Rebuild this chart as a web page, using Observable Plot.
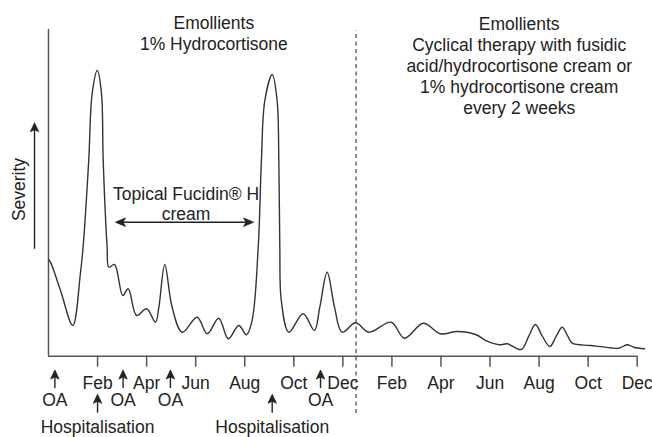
<!DOCTYPE html>
<html>
<head>
<meta charset="utf-8">
<script src="https://cdn.jsdelivr.net/npm/d3@7"></script>
<script src="https://cdn.jsdelivr.net/npm/@observablehq/plot@0.6"></script>
<style>
  html, body { margin: 0; padding: 0; background: white; }
</style>
</head>
<body>
<div id="chart"></div>
<script>
// Time in months from the start of the record (0 = December of year 1, 24 = December of year 2)
const months = [0.00, 0.08, 0.49, 0.99, 1.30, 1.41, 1.64, 1.78, 1.99, 2.16, 2.23, 2.39, 2.46, 2.69,
  3.03, 3.25, 3.59, 4.00, 4.36, 4.50, 4.74, 5.04, 5.45, 6.06, 6.47, 6.94, 7.33, 7.76, 8.07, 8.30,
  8.55, 8.68, 8.82, 9.12, 9.32, 9.39, 9.43, 9.49, 9.80, 10.38, 10.84, 11.06, 11.36, 11.66, 11.97,
  12.52, 13.06, 13.97, 14.51, 15.28, 15.98, 16.66, 17.41, 17.88, 18.40, 18.70, 19.27, 19.58, 19.85,
  20.13, 20.44, 20.70, 20.94, 21.17, 21.35, 22.10, 22.91, 23.25, 23.59, 23.86, 24.30];
// Severity (arbitrary units)
const severity = [96.7, 94, 65.7, 30.7, 82.7, 109, 195.7, 262.7, 285.7, 262.7, 195.7, 109, 89, 91.7,
  60.7, 67.4, 40.7, 47.4, 34, 49, 91.7, 49, 24, 39, 22.4, 38, 17.4, 30.7, 21.4, 35.7,
  109, 195.7, 255.7, 281.7, 255.7, 195.7, 109, 55.7, 24, 42.4, 25.7, 49, 84, 49, 24,
  33.4, 24, 34, 18, 33, 22.4, 24.7, 21.7, 15, 11.4, 12.4, 6.7, 20, 31.7,
  20, 9.7, 20, 29, 20, 13, 10.7, 8.4, 8, 11.4, 9, 7.4];

const tickMonths = [2, 4, 6, 8, 10, 12, 14, 16, 18, 20, 22, 24];
const tickLabels = ["Feb", "Apr", "Jun", "Aug", "Oct", "Dec", "Feb", "Apr", "Jun", "Aug", "Oct", "Dec"];

const oaMonths = [0.26, 3.04, 4.97, 11.09];            // OA events
const hospitalisationMonths = [2.0, 9.12];              // hospitalisations
const fucidinPeriod = [2.73, 8.36];                     // topical Fucidin H period
const therapySwitchMonth = 12.54;                       // change to cyclical therapy

const phase1Text = "Emollients\n1% Hydrocortisone";
const phase2Text = "Emollients\nCyclical therapy with fusidic\nacid/hydrocortisone cream or\n1% hydrocortisone cream\nevery 2 weeks";
const fucidinText = "Topical Fucidin® H\ncream";

const data = months.map((m, i) => ({month: m, severity: severity[i]}));

// Arrowhead symbols (tip at the anchor point), scaled by the dot radius
const k = size => Math.sqrt(size / Math.PI) / 4.5;
const headUp = {draw(c, size) { const s = k(size); c.moveTo(0, 0); c.lineTo(-4.2 * s, 9 * s); c.lineTo(0, 7 * s); c.lineTo(4.2 * s, 9 * s); c.closePath(); }};
const headLeft = {draw(c, size) { const s = k(size); c.moveTo(0, 0); c.lineTo(10 * s, -4.2 * s); c.lineTo(7.5 * s, 0); c.lineTo(10 * s, 4.2 * s); c.closePath(); }};
const headRight = {draw(c, size) { const s = k(size); c.moveTo(0, 0); c.lineTo(-10 * s, -4.2 * s); c.lineTo(-7.5 * s, 0); c.lineTo(-10 * s, 4.2 * s); c.closePath(); }};

const ink = "#222";
const axisInk = "#555";
const fs = 17.5;
const headStyle = {fill: ink, stroke: ink, strokeWidth: 0.8, strokeLinejoin: "miter", r: 4.5};

const chart = Plot.plot({
  width: 652,
  height: 437,
  marginLeft: 48,
  marginRight: 15.3,
  marginTop: 29,
  marginBottom: 81.3,
  x: {domain: [0, 24], axis: null, label: null},
  y: {domain: [0, 326.7], axis: null, label: null},
  style: {fontFamily: "'Liberation Sans', Arial, Helvetica, sans-serif", fontSize: fs + "px", color: ink, background: "white"},
  marks: [
    // axes
    Plot.ruleY([0], {stroke: axisInk, strokeWidth: 1.5}),
    Plot.ruleX([0], {stroke: axisInk, strokeWidth: 1.5}),
    Plot.axisX({ticks: tickMonths, tickFormat: d => tickLabels[tickMonths.indexOf(d)], tickSize: 11, tickPadding: 9.2,
      fontSize: fs, stroke: axisInk, strokeWidth: 1.5, fill: ink, label: null}),
    // therapy switch
    Plot.ruleX([therapySwitchMonth], {y1: -57.3, y2: 325.7, stroke: "#444", strokeWidth: 1.2, strokeDasharray: "4,3.5"}),
    // severity curve
    Plot.line(data, {x: "month", y: "severity", curve: "catmull-rom", stroke: "#333", strokeWidth: 1.4}),
    // top annotations
    Plot.text([phase1Text], {x: 6.74, y: 341.4, text: d => d, lineAnchor: "top", lineHeight: 1.16, fill: ink, fontSize: fs}),
    Plot.text([phase2Text], {x: 19.19, y: 341.4, text: d => d, lineAnchor: "top", lineHeight: 1.2, fill: ink, fontSize: fs}),
    // Fucidin period
    Plot.text([fucidinText], {x: 5.61, y: 171.1, text: d => d, lineAnchor: "top", lineHeight: 1.17, fill: ink, fontSize: fs}),
    Plot.link([fucidinPeriod], {x1: d => d[0] + 0.3, x2: d => d[1] - 0.3, y1: 134, y2: 134, stroke: ink, strokeWidth: 1.4}),
    Plot.dot([fucidinPeriod[0]], {x: d => d, y: 134, symbol: headLeft, ...headStyle}),
    Plot.dot([fucidinPeriod[1]], {x: d => d, y: 134, symbol: headRight, ...headStyle}),
    // Severity label with arrow
    Plot.text(["Severity"], {x: -1.18, y: 166.7, text: d => d, rotate: -90, fill: ink, fontSize: fs}),
    Plot.link([0], {x1: -0.57, x2: -0.57, y1: 107.4, y2: 228, stroke: ink, strokeWidth: 1.4}),
    Plot.dot([0], {x: -0.57, y: 233.5, symbol: headUp, ...headStyle}),
    // OA events
    Plot.ruleX(oaMonths, {x: d => d, y1: -32.3, y2: -19, stroke: ink, strokeWidth: 1.4}),
    Plot.dot(oaMonths, {x: d => d, y: -13.8, symbol: headUp, ...headStyle}),
    Plot.text(oaMonths, {x: d => d, y: -43.7, text: () => "OA", fill: ink, fontSize: fs}),
    // Hospitalisations
    Plot.ruleX(hospitalisationMonths, {x: d => d, y1: -57, y2: -43, stroke: ink, strokeWidth: 1.4}),
    Plot.dot(hospitalisationMonths, {x: d => d, y: -38.1, symbol: headUp, ...headStyle}),
    Plot.text(hospitalisationMonths, {x: d => d, y: -71.4, text: () => "Hospitalisation", fill: ink, fontSize: fs})
  ]
});
document.getElementById("chart").appendChild(chart);
</script>
</body>
</html>
